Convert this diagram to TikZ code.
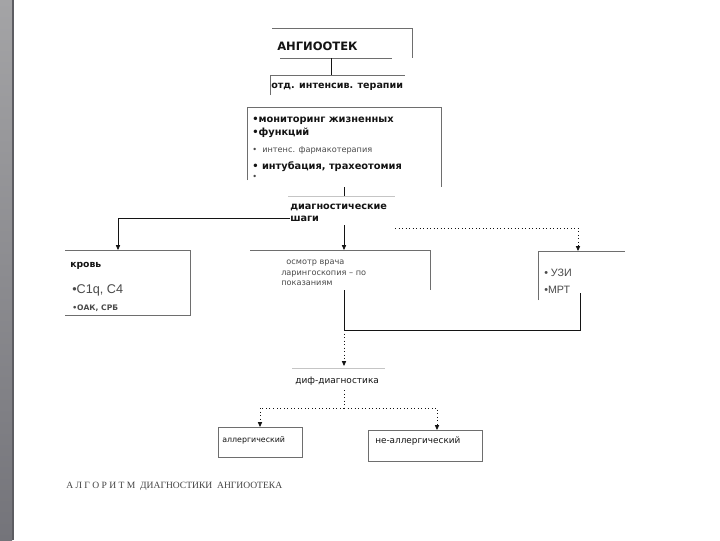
\documentclass[tikz,border=0pt]{standalone}
\usepackage{fontspec}
\setmainfont{DejaVu Sans}
\newfontfamily\arialfont{Liberation Sans}
\newfontfamily\timesfont{Liberation Serif}
\usetikzlibrary{arrows.meta,positioning,calc}
\definecolor{scanink}{HTML}{141414}
\definecolor{framegrey}{HTML}{6E6E6E}
\definecolor{softgrey}{HTML}{4A4A4A}
\definecolor{striptop}{HTML}{A4A4A6}
\definecolor{stripbot}{HTML}{74747A}

\begin{document}
\begin{tikzpicture}[x=0.025cm, y=-0.025cm,
  frame/.style={draw=framegrey, line width=0.5pt},
  link/.style={draw=scanink, line width=0.5pt},
  arrowlink/.style={link, -{Triangle[length=3.5pt,width=3pt]}},
  dotlink/.style={link, dotted, line width=0.6pt},
  dotarrow/.style={dotlink, -{Triangle[length=3.5pt,width=3pt]}},
  boldtxt/.style={font=\bfseries\fontsize{7}{8}\selectfont, text=scanink, inner sep=0pt, anchor=west},
  smalltxt/.style={font=\fontsize{5.8}{7}\selectfont, text=softgrey, inner sep=0pt, anchor=west},
]
\useasboundingbox (0,0) rectangle (720,540);
\fill[white] (0,0) rectangle (720,540);
% grey strip on the left edge of the slide
\shade[top color=striptop, bottom color=stripbot] (0,0) rectangle (12,540);
\fill[stripbot!80!black] (12,0) rectangle (14,540);

% frames of the boxes (only partly visible in the scan)
\draw[frame] (272,28) -- (412,28) -- (412,58);
\draw[frame] (280,58) -- (392,58);
\draw[frame] (270,95) -- (270,75) -- (405,75);
\draw[frame] (247,180) -- (247,107) -- (441,107) -- (441,187);
\draw[frame, draw=framegrey!40] (288,196) -- (395,196);
\draw[frame] (65,250) -- (190,250) -- (190,315) -- (65,315);
\draw[frame] (250,250) -- (430,250) -- (430,290);
\draw[frame] (538,300) -- (538,251) -- (625,251);
\draw[frame, draw=framegrey!40] (292,368) -- (385,368);
\draw[frame] (218,427) rectangle (302,457);
\draw[frame] (368,430) rectangle (482,461);

% texts
\node[boldtxt, font=\bfseries\fontsize{8.2}{9}\selectfont] (angio) at (277,46) {АНГИООТЕК};
\node[boldtxt, font=\bfseries\fontsize{6.8}{8}\selectfont] (icu) at (271,87) {отд. интенсив. терапии};
\node[boldtxt] (mon1) at (252,121) {•мониторинг жизненных};
\node[boldtxt] (mon2) at (252,133) {•функций};
\node[smalltxt] (mon3) at (252,150) {•\ \ интенс. фармакотерапия};
\node[boldtxt] (mon4) at (252,167) {•\ интубация, трахеотомия};
\node[smalltxt] (mon5) at (252,177) {•};
\node[boldtxt, align=left, font=\bfseries\fontsize{6.9}{8.5}\selectfont, anchor=north west] (diag) at (290,204) {диагностические\\шаги};
\node[boldtxt, font=\bfseries\fontsize{6.6}{8}\selectfont] (krov) at (70,266) {кровь};
\node[boldtxt, font=\arialfont\fontsize{9}{10}\selectfont, text=softgrey] (lab1) at (72,290) {•C1q, C4};
\node[boldtxt, font=\bfseries\fontsize{5.4}{6}\selectfont, text=softgrey] (lab2) at (72,308) {•ОАК, СРБ};
\node[smalltxt, align=left, font=\fontsize{5.8}{7.5}\selectfont, anchor=north west] (osm) at (281,260)
  {\ \ осмотр врача\\ларингоскопия – по\\показаниям};
\node[boldtxt, font=\arialfont\fontsize{7.6}{9}\selectfont, text=softgrey] (uzi) at (544,273) {• УЗИ};
\node[boldtxt, font=\arialfont\fontsize{7.6}{9}\selectfont, text=softgrey] (mrt) at (544,290) {•МРТ};
\node[boldtxt, font=\fontsize{6.4}{8}\selectfont] (diff) at (295,381) {диф-диагностика};
\node[boldtxt, font=\fontsize{5.6}{7}\selectfont] (allerg) at (222,440) {аллергический};
\node[boldtxt, font=\fontsize{6.3}{7}\selectfont] (nonallerg) at (375,441) {не-аллергический};
\node[boldtxt, font=\timesfont\fontsize{6.8}{8}\selectfont, text=scanink!80] (title) at (66,486)
  {А Л Г О Р И Т М\ \ ДИАГНОСТИКИ\ \ АНГИООТЕКА};

% connection points
\coordinate (angio-s) at (331,58);
\coordinate (icu-n) at (331,75);
\coordinate (mon-s) at (344,187);
\coordinate (diag-n) at (344,196);
\coordinate (diag-w) at (290,218);
\coordinate (diag-s) at (344,225);
\coordinate (diag-e) at (395,228);
\coordinate (krov-n) at (118,250);
\coordinate (osm-n) at (344,250);
\coordinate (uzi-n) at (578,251);
\coordinate (osm-s) at (344,290);
\coordinate (uzi-s) at (580,293);
\coordinate (join) at (344,330);
\coordinate (diff-n) at (344,366);
\coordinate (diff-s) at (344,390);
\coordinate (fork) at (344,408);
\coordinate (allerg-n) at (260,427);
\coordinate (nonallerg-n) at (437,430);

% connectors
\draw[link] (angio-s) -- (icu-n);
\draw[link] (mon-s) -- (diag-n);
\draw[arrowlink] (diag-w) -| (krov-n);
\draw[arrowlink] (diag-s) -- (osm-n);
\draw[dotarrow] (diag-e) -| (uzi-n);
\draw[link] (osm-s) -- (join);
\draw[link] (uzi-s) |- (join);
\draw[dotarrow] (join) -- (diff-n);
\draw[dotlink] (diff-s) -- (fork);
\draw[dotarrow] (fork) -| (allerg-n);
\draw[dotarrow] (fork) -| (nonallerg-n);
\end{tikzpicture}
\end{document}
